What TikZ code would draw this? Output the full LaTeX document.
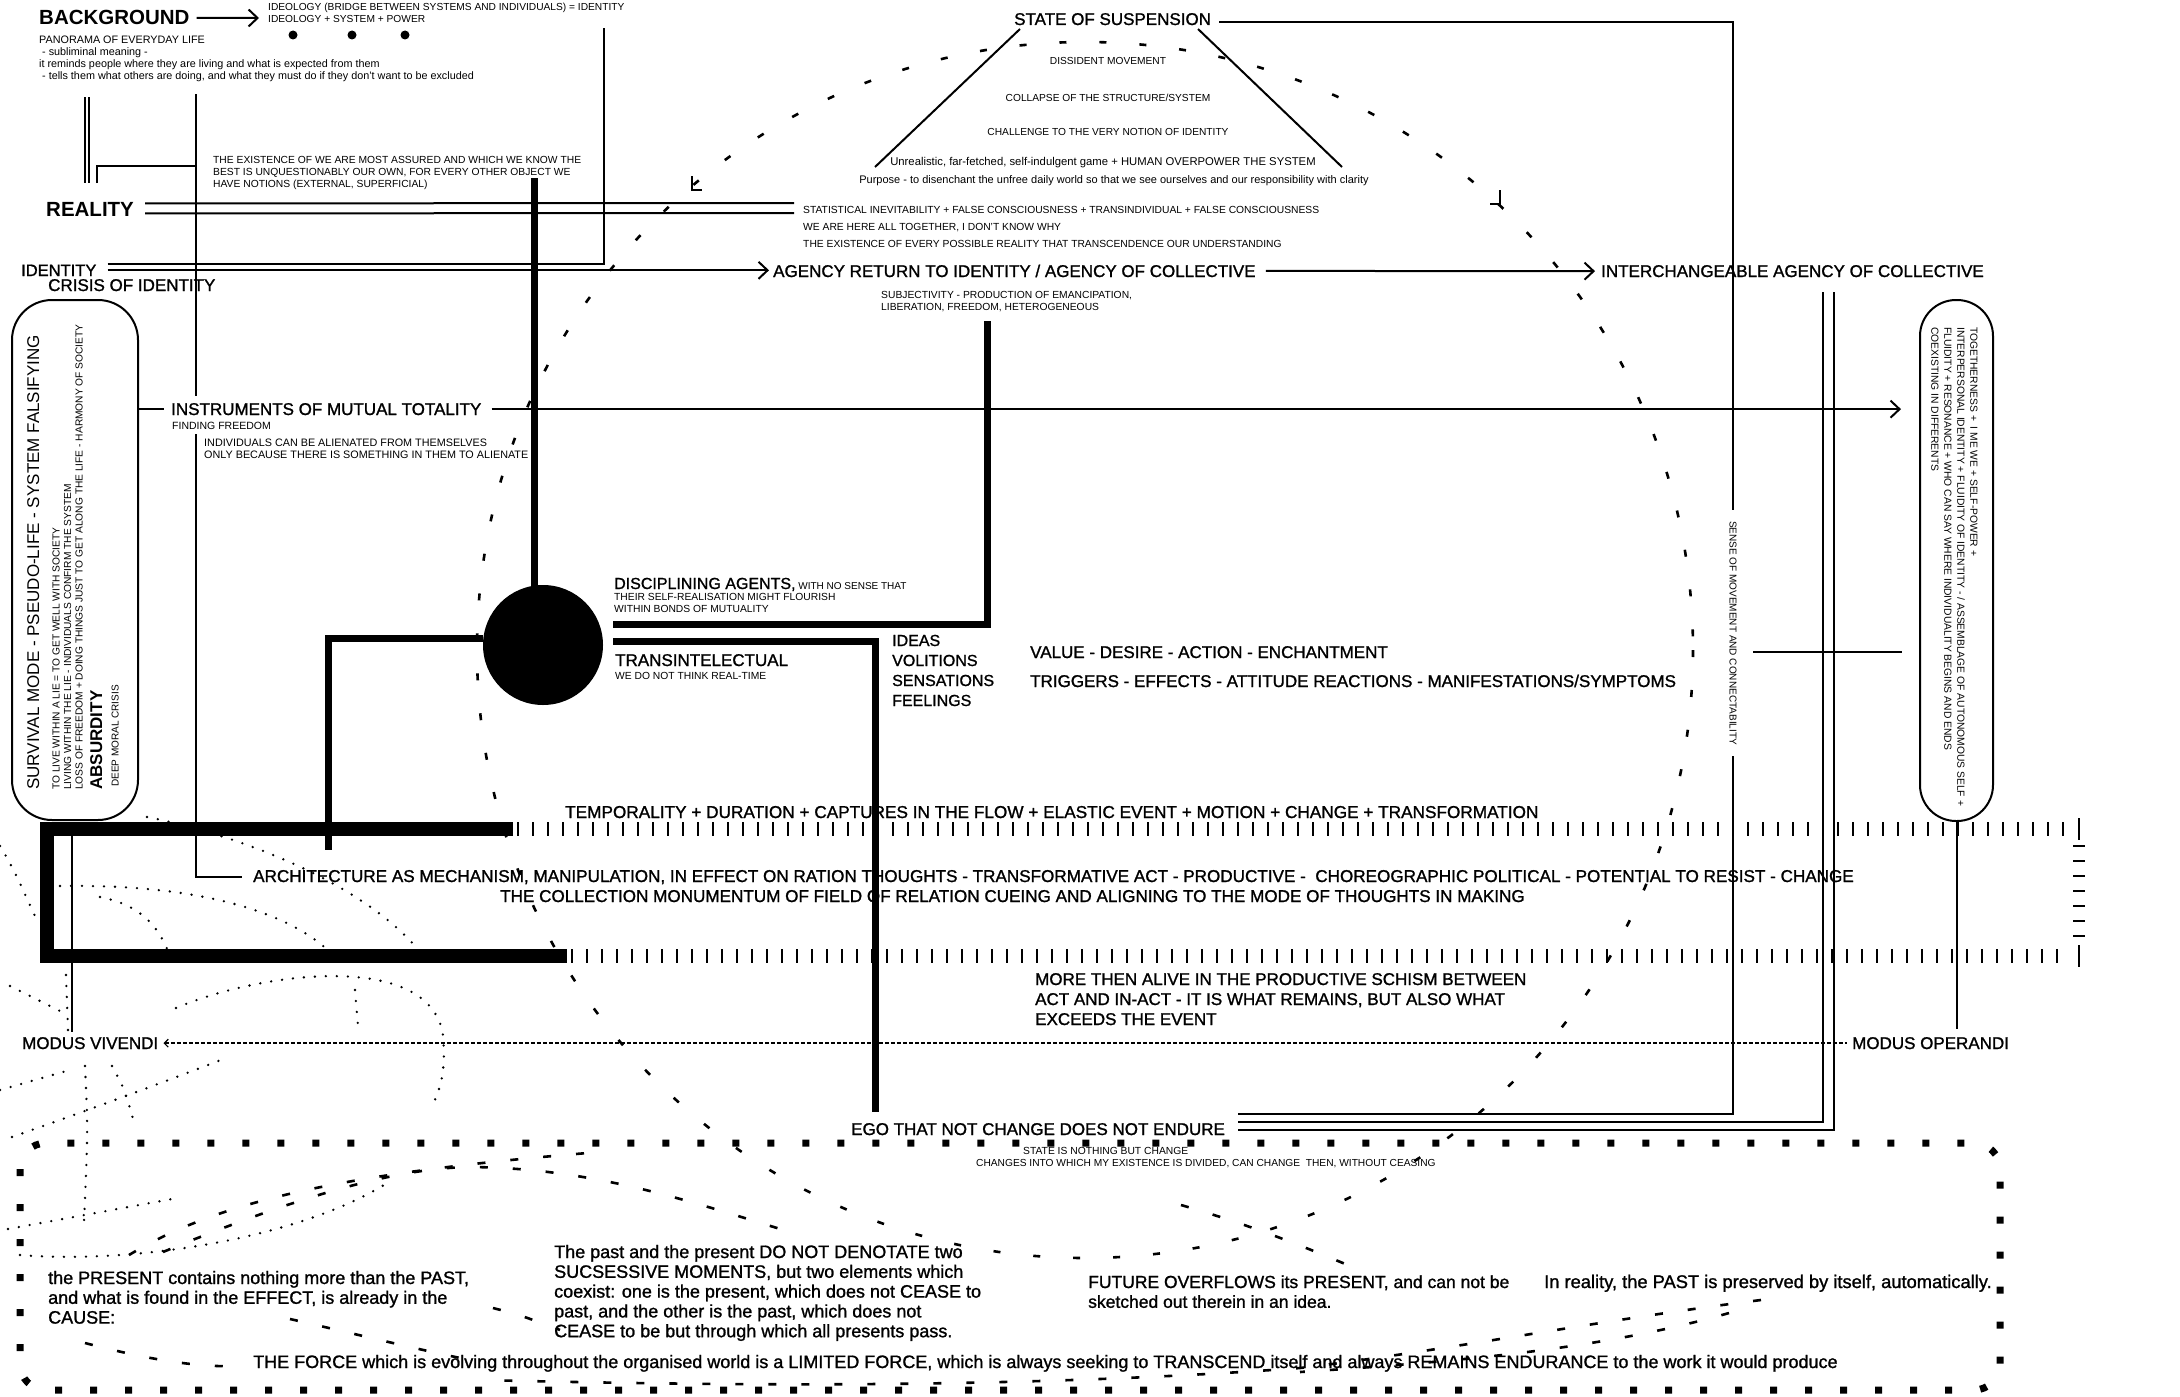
\documentclass[tikz,border=0pt]{standalone}
\usepackage{fontspec}
\setmainfont{Liberation Sans}
\newfontfamily\medfont[FakeBold=1.2]{Liberation Sans}
\usepackage{tikz}
\usetikzlibrary{arrows.meta, positioning, calc}

\newcommand{\fsz}[2]{\fontsize{#1}{#2}\selectfont}

\begin{document}
\begin{tikzpicture}[
    x=1pt, y=-1pt,
    lbl/.style={anchor=base west, inner sep=0pt, align=left},
    ctr/.style={anchor=base, inner sep=0pt, font=\fsz{10.2}{12}},
    note/.style={lbl, font=\fsz{10.3}{12.3}},
    head/.style={lbl, font=\medfont\fsz{17}{20}},
    title/.style={lbl, font=\bfseries\fsz{20.5}{24}},
    quote/.style={lbl, font=\medfont\fsz{18}{19.8}},
    wire/.style={line width=2pt},
    heavywire/.style={line width=7pt},
    arrow/.style={wire, -{Straight Barb[length=9pt, width=17pt, line width=2pt]}},
    tick/.style={line width=2.2pt},
    ring/.style={line width=2.6pt, dash pattern=on 7pt off 33pt},
    dots/.style={line width=2.6pt, line cap=round, dash pattern=on 0pt off 11pt},
    dashes/.style={line width=2.6pt, dash pattern=on 8pt off 25pt},
    border/.style={line width=7pt, dash pattern=on 7pt off 28pt},
    modus/.style={line width=1.6pt, dash pattern=on 4pt off 2pt}
]
\useasboundingbox (0,0) rectangle (2180,1397);
\fill[white] (0,0) rectangle (2180,1397);

% ---------- dashed ring and scribbles (background layer)
\draw[ring] (1085,650) circle (608);
\draw[wire] (692,176) -- (692,190) -- (702,190);
\draw[wire] (1500,190) -- (1500,204) -- (1490,204);

\draw[dots] (147,817) .. controls (240,835) and (370,885) .. (425,958);
\draw[dots] (60,886) .. controls (180,884) and (280,905) .. (330,952);
\draw[dots] (100,897) .. controls (140,905) and (160,925) .. (172,962);
\draw[dots] (176,1008) .. controls (260,972) and (430,950) .. (443,1035) .. controls (446,1070) and (441,1088) .. (432,1106);
\draw[dots] (355,990) -- (358,1026);
\draw[dots] (12,1137) .. controls (100,1106) and (180,1076) .. (226,1058);
\draw[dots] (8,1229) -- (172,1199);
\draw[dots] (20,1255) .. controls (130,1264) and (300,1240) .. (392,1180);
\draw[dots] (85,1066) .. controls (88,1130) .. (84,1222);
\draw[dots] (0,846) .. controls (15,870) and (25,895) .. (35,916);
\draw[dots] (10,986) -- (66,1014);
\draw[dots] (0,1090) -- (70,1070);
\draw[dots] (112,1066) .. controls (125,1090) .. (135,1126);
\draw[dots] (66,975) -- (68,1030);

\draw[dashes] (129,1255) .. controls (220,1200) and (350,1172) .. (600,1152);
\draw[dashes] (163,1252) .. controls (260,1212) and (380,1168) .. (470,1167) .. controls (600,1168) and (700,1205) .. (800,1235);
\draw[dashes] (85,1343) .. controls (150,1360) and (200,1368) .. (245,1366);
\draw[dashes] (290,1319) .. controls (360,1335) and (420,1350) .. (470,1360);
\draw[dashes] (493,1308) .. controls (520,1315) .. (560,1330);
\draw[dashes] (1761,1300) .. controls (1600,1320) and (1450,1350) .. (1300,1368) .. controls (1000,1390) and (700,1385) .. (480,1380);
\draw[dashes] (1729,1313) .. controls (1600,1350) and (1450,1362) .. (1300,1372);
\draw[dashes] (1181,1205) .. controls (1250,1225) and (1300,1245) .. (1350,1266);

% ---------- background / ideology
\node[title] (background) at (39,25) {BACKGROUND};
\node[lbl, font=\fsz{10.2}{12.5}] (ideology) at (268,23) {IDEOLOGY (BRIDGE BETWEEN SYSTEMS AND INDIVIDUALS) = IDENTITY\\IDEOLOGY + SYSTEM + POWER};
\coordinate (ideo tip) at (259,18);
\draw[arrow] ([xshift=7pt]background.east) -- (ideo tip);
\foreach \x in {293,352,405}
    \fill (\x,35) circle (4.5);
\node[lbl, font=\fsz{10.8}{12.3}] (panorama) at (39,80) {PANORAMA OF EVERYDAY LIFE\\
    \hspace*{3pt}- subliminal meaning -\\
    it reminds people where they are living and what is expected from them\\
    \hspace*{3pt}- tells them what others are doing, and what they must do if they don't want to be excluded};
\node[note] (existence) at (213,187.6) {THE EXISTENCE OF WE ARE MOST ASSURED AND WHICH WE KNOW THE\\BEST IS UNQUESTIONABLY OUR OWN, FOR EVERY OTHER OBJECT WE\\HAVE NOTIONS (EXTERNAL, SUPERFICIAL)};

% ---------- reality / identity
\node[title] (reality) at (46,216.5) {REALITY};
\node[lbl, font=\fsz{10.3}{17}] (statistical) at (803,247) {STATISTICAL INEVITABILITY + FALSE CONSCIOUSNESS + TRANSINDIVIDUAL + FALSE CONSCIOUSNESS\\WE ARE HERE ALL TOGETHER, I DON'T KNOW WHY\\THE EXISTENCE OF EVERY POSSIBLE REALITY THAT TRANSCENDENCE OUR UNDERSTANDING};
\draw[wire] ([xshift=11pt,yshift=6pt]reality.east) -- (794,203);
\draw[wire] ([xshift=11pt,yshift=-4pt]reality.east) -- (794,213);

\node[head, font=\medfont\fsz{16.5}{20}] (identity) at (21,276) {IDENTITY};
\node[head] (crisis) at (48,291) {CRISIS OF IDENTITY};
\node[head] (agency) at (773,277) {AGENCY RETURN TO IDENTITY / AGENCY OF COLLECTIVE};
\node[head] (interchange) at (1601,277) {INTERCHANGEABLE AGENCY OF COLLECTIVE};
\draw[wire] ([xshift=11pt,yshift=6pt]identity.east) -| (604,28);
\draw[arrow] ([xshift=11pt]identity.east) -- ([xshift=-4pt]agency.west |- identity.east);
\draw[arrow] ([xshift=10pt]agency.east) -- ([xshift=-6pt]interchange.west);
\node[lbl, font=\fsz{10.3}{12}] (subjectivity) at (881,310) {SUBJECTIVITY - PRODUCTION OF EMANCIPATION,\\LIBERATION, FREEDOM, HETEROGENEOUS};

% ---------- state of suspension
\node[head] (suspension) at (1014,25) {STATE OF SUSPENSION};
\draw[wire] (1020,29) -- (875,167);
\draw[wire] (1198,29) -- (1342,167);
\node[ctr] (dissident) at (1108,65) {DISSIDENT MOVEMENT};
\node[ctr] (collapse) at (1108,102) {COLLAPSE OF THE STRUCTURE/SYSTEM};
\node[ctr] (challenge) at (1108,135) {CHALLENGE TO THE VERY NOTION OF IDENTITY};
\node[ctr, font=\fsz{11.3}{12}] (unreal) at (1103,165) {Unrealistic, far-fetched, self-indulgent game + HUMAN OVERPOWER THE SYSTEM};
\node[ctr, font=\fsz{11}{12}] (purpose) at (1114,183) {Purpose - to disenchant the unfree daily world so that we see ourselves and our responsibility with clarity};

% ---------- left box
\node[draw, wire, rounded corners=40pt, minimum width=126pt, minimum height=520pt, inner sep=0pt] (survival box) at (75,560) {};
\node[lbl, rotate=90, font=\fsz{17}{19}] (survival) at (39,790) {SURVIVAL MODE - PSEUDO-LIFE - SYSTEM FALSIFYING};
\node[lbl, rotate=90, font=\fsz{10.2}{11.5}] (lie) at (82.6,790) {TO LIVE WITHIN A LIE = TO GET WELL WITH SOCIETY\\LIVING WITHIN THE LIE - INDIVIDUALS CONFIRM THE SYSTEM\\LOSS OF FREEDOM + DOING THINGS JUST TO GET ALONG THE LIFE - HARMONY OF SOCIETY};
\node[lbl, rotate=90, font=\bfseries\fsz{17}{19}] (absurdity) at (102,790) {ABSURDITY};
\node[lbl, rotate=90, font=\fsz{10}{12}] (moral) at (118.6,787) {DEEP MORAL CRISIS};

% ---------- right box
\node[draw, wire, rounded corners=36pt, minimum width=73pt, minimum height=521pt, inner sep=0pt] (together) at (1956.5,560.5) {};
\node[lbl, rotate=-90, font=\fsz{10.3}{13}] (togetherness) at (1931.3,327) {TOGETHERNESS +\ \ I ME WE + SELF-POWER +\\INTERPERSONAL IDENTITY + FLUIDITY OF IDENTITY - / ASSEMBLAGE OF AUTONOMOUS SELF +\\FLUIDITY + RESONANCE + WHO CAN SAY WHERE INDIVIDUALITY BEGINS AND ENDS\\COEXISTING IN DIFFERENTS};
\draw[wire] (together.south) -- ++(0,207);
\draw[wire] (1753,652) -- (1902,652);

% ---------- instruments
\node[head] (instruments) at (171,415) {INSTRUMENTS OF MUTUAL TOTALITY};
\node[lbl, font=\fsz{10.5}{11}] (finding) at (172,429) {FINDING FREEDOM};
\node[lbl, font=\fsz{10.8}{12.5}] (alienated) at (204,458.5) {INDIVIDUALS CAN BE ALIENATED FROM THEMSELVES\\ONLY BECAUSE THERE IS SOMETHING IN THEM TO ALIENATE};
\draw[wire] (survival box.east |- instruments.west) -- ([xshift=-7pt]instruments.west);
\draw[arrow] ([xshift=10pt]instruments.east) -- ([xshift=-18pt]together.west |- instruments.east);

% ---------- core and agents
\node[circle, fill, minimum size=120pt, inner sep=0pt] (core) at (543,645) {};
\node[head, font=\medfont\fsz{16}{19}] (disciplining) at (614,589) {DISCIPLINING AGENTS,{\normalfont\fsz{10}{10} WITH NO SENSE THAT}};
\node[lbl, font=\fsz{10.3}{11.5}] (selfreal) at (614,612) {THEIR SELF-REALISATION MIGHT FLOURISH\\WITHIN BONDS OF MUTUALITY};
\node[head] (transint) at (615,666) {TRANSINTELECTUAL};
\node[lbl, font=\fsz{10.3}{10}] (realtime) at (615,679) {WE DO NOT THINK REAL-TIME};
\node[head, font=\medfont\fsz{16}{20}] (ideas) at (892,706) {IDEAS\\VOLITIONS\\SENSATIONS\\FEELINGS};
\node[head] (value) at (1030,658) {VALUE - DESIRE - ACTION - ENCHANTMENT};
\node[head] (triggers) at (1030,687) {TRIGGERS - EFFECTS - ATTITUDE REACTIONS - MANIFESTATIONS/SYMPTOMS};

% ---------- temporality band
\node[lbl, font=\medfont\fsz{17.2}{20}] (temporality) at (565,818) {TEMPORALITY + DURATION + CAPTURES IN THE FLOW + ELASTIC EVENT + MOTION + CHANGE + TRANSFORMATION};
\node[lbl, font=\medfont\fsz{17.1}{20}] (architecture) at (253,882) {ARCHITECTURE AS MECHANISM, MANIPULATION, IN EFFECT ON RATION THOUGHTS - TRANSFORMATIVE ACT - PRODUCTIVE -\ \ CHOREOGRAPHIC POLITICAL - POTENTIAL TO RESIST - CHANGE};
\node[lbl, font=\medfont\fsz{17.1}{20}] (collection) at (500,902) {THE COLLECTION MONUMENTUM OF FIELD OF RELATION CUEING AND ALIGNING TO THE MODE OF THOUGHTS IN MAKING};
\draw[line width=14pt] (513,829) -- (47,829) -- (47,956) -- (567,956);
\foreach \x in {518,533,...,2070}
    \draw[tick] (\x,822) -- (\x,836);
\foreach \x in {572,587,...,2070}
    \draw[tick] (\x,949) -- (\x,963);
\draw[wire] (2079,818) -- (2079,840);
\draw[wire] (2079,945) -- (2079,967);
\foreach \y in {846,861,...,938}
    \draw[line width=2.6pt] (2073,\y) -- (2085,\y);

% ---------- modus and ego
\node[head] (alive) at (1035,1025) {MORE THEN ALIVE IN THE PRODUCTIVE SCHISM BETWEEN\\ACT AND IN-ACT - IT IS WHAT REMAINS, BUT ALSO WHAT\\EXCEEDS THE EVENT};
\node[head] (vivendi) at (22,1049) {MODUS VIVENDI};
\node[head] (operandi) at (1852,1049) {MODUS OPERANDI};
\draw[modus, {Straight Barb[length=4pt, width=8pt, line width=1.2pt]}-] ([xshift=5pt]vivendi.east) -- ([xshift=-5pt]operandi.west);
\draw[wire] (72,836) -- (72,1032);

\node[head] (ego) at (851,1135) {EGO THAT NOT CHANGE DOES NOT ENDURE};
\node[lbl, font=\fsz{10.3}{11}] (statechange) at (1023,1154) {STATE IS NOTHING BUT CHANGE};
\node[lbl, font=\fsz{10.2}{11}] (changes) at (976,1166) {CHANGES INTO WHICH MY EXISTENCE IS DIVIDED, CAN CHANGE\ \ THEN, WITHOUT CEASING};
\coordinate (ego a) at ([xshift=13pt,yshift=15pt]ego.east);
\coordinate (ego b) at ([xshift=13pt,yshift=7pt]ego.east);
\coordinate (ego c) at ([xshift=13pt,yshift=-1pt]ego.east);
\coordinate (ego top) at (875,1112);

% ---------- connectors
\node[lbl, rotate=-90, font=\fsz{10}{12}] (sense) at (1729.5,521) {SENSE OF MOVEMENT AND CONNECTABILITY};
\draw[wire] ([xshift=8pt,yshift=-3pt]suspension.east) -| ([yshift=11pt]sense.west);
\draw[wire] ([yshift=-11pt]sense.east) |- (ego a);
\draw[wire] (1823,292) |- (ego b);
\draw[wire] (1834,292) |- (ego c);

\coordinate (frame top) at (196,94);
\draw[wire] (85,97) -- (85,183);
\draw[wire] (89,97) -- (89,183);
\draw[wire] (97,183) |- (frame top |- 0,166);
\draw[wire] (frame top) -- (196,396);
\draw[wire] (196,434) |- ([xshift=-11pt]architecture.west);

\draw[heavywire] (534,178) -- (534,588);
\draw[heavywire] ([yshift=7pt]core.west) -| (328,850);
\coordinate (agents) at (613,624);
\draw[heavywire] (agents) -| (987,321);
\coordinate (intel) at (613,641);
\draw[heavywire] (intel) -| (ego top);

% ---------- bottom frame
\draw[border, rounded corners=26pt] (20,1143) rectangle (2000,1390);
\node[quote] (present) at (48,1323.6) {the PRESENT contains nothing more than the PAST,\\and what is found in the EFFECT, is already in the\\CAUSE:};
\node[quote] (pastpresent) at (554,1337.2) {The past and the present DO NOT DENOTATE two\\SUCSESSIVE MOMENTS, but two elements which\\coexist: one is the present, which does not CEASE to\\past, and the other is the past, which does not\\CEASE to be but through which all presents pass.};
\node[quote, font=\medfont\fsz{17.5}{19.8}] (future) at (1088,1307.8) {FUTURE OVERFLOWS its PRESENT, and can not be\\sketched out therein in an idea.};
\node[quote, font=\medfont\fsz{18.3}{19.8}] (preserved) at (1544,1288) {In reality, the PAST is preserved by itself, automatically.};
\node[quote] (force) at (253,1368) {THE FORCE which is evolving throughout the organised world is a LIMITED FORCE, which is always seeking to TRANSCEND itself and always REMAINS ENDURANCE to the work it would produce};
\end{tikzpicture}
\end{document}
